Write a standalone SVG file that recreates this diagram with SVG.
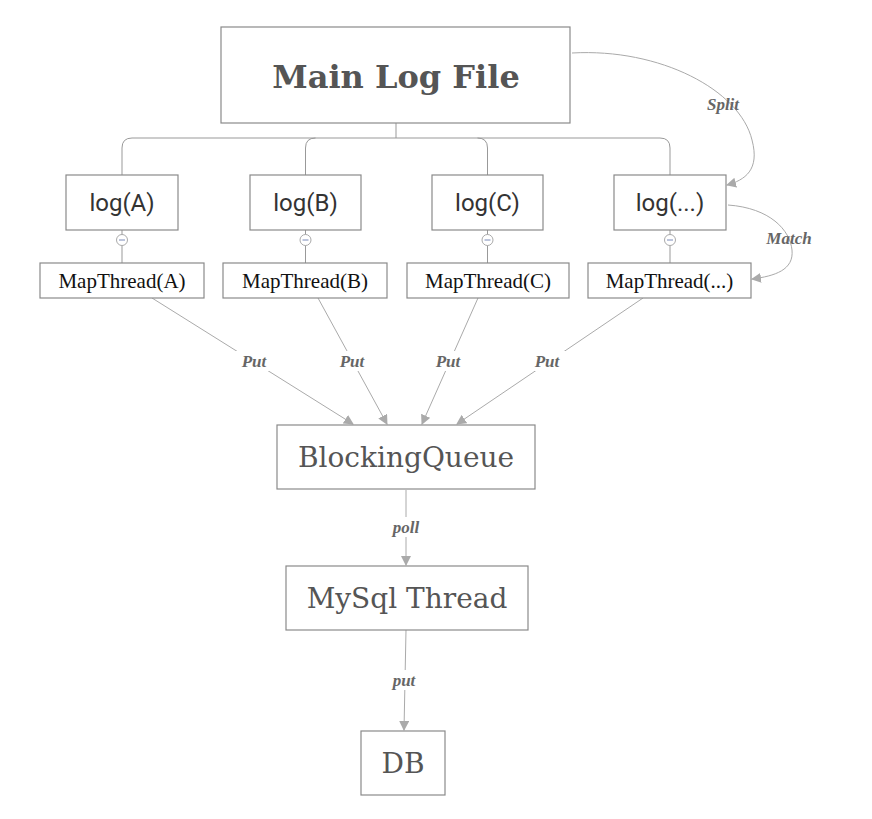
<svg xmlns="http://www.w3.org/2000/svg" width="872" height="819" viewBox="0 0 872 819">
<style>
.box{fill:#fff;stroke:#8a8a8a;stroke-width:1.2}
.line{fill:none;stroke:#999;stroke-width:1}
.edge{fill:none;stroke:#aaa;stroke-width:1}
.slab{font-family:"DejaVu Serif","Liberation Serif",serif;fill:#555;text-anchor:middle}
.sans{font-family:Roboto,"Liberation Sans",sans-serif;fill:#333;text-anchor:middle;font-size:24px}
.map{font-family:"Liberation Serif","DejaVu Serif",serif;fill:#111;text-anchor:middle;font-size:21px}
.lbl{font-family:"Liberation Serif","DejaVu Serif",serif;font-style:italic;font-weight:bold;fill:#666;text-anchor:middle;font-size:17px}
.knob{fill:#fff;stroke:#aaa;stroke-width:1}
.knobm{stroke:#7a8ab8;stroke-width:1}
</style>
<defs>
<marker id="arr" viewBox="0 0 10 10" refX="9" refY="5" markerWidth="10" markerHeight="10" markerUnits="userSpaceOnUse" orient="auto">
<path d="M0,0 L10,5 L0,10 z" fill="#aaa"/>
</marker>
</defs>
<rect width="872" height="819" fill="#fff"/>
<g id="connectors">
<path class="line" d="M396,123 V138 M132,138 H660 M122,175 V148 Q122,138 132,138 M305.5,175 V148 Q305.5,138 315.5,138 M487.5,175 V148 Q487.5,138 477.5,138 M670,175 V148 Q670,138 660,138"/>
<path class="line" d="M122,230 V263 M305.5,230 V263 M487.5,230 V263 M670,230 V263"/>
<path class="edge" d="M152,298 L353,424" marker-end="url(#arr)"/>
<path class="edge" d="M318,298 L387,424" marker-end="url(#arr)"/>
<path class="edge" d="M478,298 L422,424" marker-end="url(#arr)"/>
<path class="edge" d="M643,298 L457,424" marker-end="url(#arr)"/>
<path class="edge" d="M406,490 L406,565" marker-end="url(#arr)"/>
<path class="edge" d="M406,630 L404,730" marker-end="url(#arr)"/>
<path class="edge" d="M572,53 C660,48 740,90 752,140 C760,170 745,180 727,185" marker-end="url(#arr)"/>
<path class="edge" d="M728,205 C770,208 790,230 792,250 C794,270 775,276 752,279" marker-end="url(#arr)"/>
<rect x="236" y="351" width="36" height="20" fill="#fff"/>
<rect x="334" y="351" width="36" height="20" fill="#fff"/>
<rect x="430" y="351" width="36" height="20" fill="#fff"/>
<rect x="529" y="351" width="36" height="20" fill="#fff"/>
<rect x="388" y="517" width="36" height="20" fill="#fff"/>
<rect x="388" y="670" width="36" height="20" fill="#fff"/>
<text class="lbl" x="254" y="367">Put</text>
<text class="lbl" x="352" y="367">Put</text>
<text class="lbl" x="448" y="367">Put</text>
<text class="lbl" x="547" y="367">Put</text>
<text class="lbl" x="406" y="533">poll</text>
<text class="lbl" x="404" y="686">put</text>
<text class="lbl" x="723" y="110">Split</text>
<text class="lbl" x="789" y="244">Match</text>
</g>
<g id="main"><rect class="box" x="221" y="27" width="349" height="96"/><text class="slab" x="396" y="88" font-size="32" font-weight="bold">Main Log File</text></g>
<g id="logA"><rect class="box" x="66" y="175" width="112" height="55"/><text class="sans" x="122" y="211">log(A)</text></g>
<g id="logB"><rect class="box" x="250" y="175" width="111" height="55"/><text class="sans" x="305.5" y="211">log(B)</text></g>
<g id="logC"><rect class="box" x="432" y="175" width="111" height="55"/><text class="sans" x="487.5" y="211">log(C)</text></g>
<g id="logN"><rect class="box" x="614" y="175" width="112" height="55"/><text class="sans" x="670" y="211">log(...)</text></g>
<g id="knobs">
<circle class="knob" cx="122" cy="240" r="5.5"/><path class="knobm" d="M119,240 H125"/>
<circle class="knob" cx="305.5" cy="240" r="5.5"/><path class="knobm" d="M302.5,240 H308.5"/>
<circle class="knob" cx="487.5" cy="240" r="5.5"/><path class="knobm" d="M484.5,240 H490.5"/>
<circle class="knob" cx="670" cy="240" r="5.5"/><path class="knobm" d="M667,240 H673"/>
</g>
<g id="mapA"><rect class="box" x="40" y="263" width="164" height="35"/><text class="map" x="122" y="288">MapThread(A)</text></g>
<g id="mapB"><rect class="box" x="223" y="263" width="164" height="35"/><text class="map" x="305" y="288">MapThread(B)</text></g>
<g id="mapC"><rect class="box" x="407" y="263" width="162" height="35"/><text class="map" x="488" y="288">MapThread(C)</text></g>
<g id="mapN"><rect class="box" x="588" y="263" width="163" height="35"/><text class="map" x="669.5" y="288">MapThread(...)</text></g>
<g id="queue"><rect class="box" x="277" y="425" width="258" height="64"/><text class="slab" x="406" y="467" font-size="28">BlockingQueue</text></g>
<g id="mysql"><rect class="box" x="286" y="566" width="242" height="64"/><text class="slab" x="407" y="608" font-size="28">MySql Thread</text></g>
<g id="db"><rect class="box" x="361" y="731" width="84" height="64"/><text class="slab" x="403" y="773" font-size="28">DB</text></g>
</svg>
